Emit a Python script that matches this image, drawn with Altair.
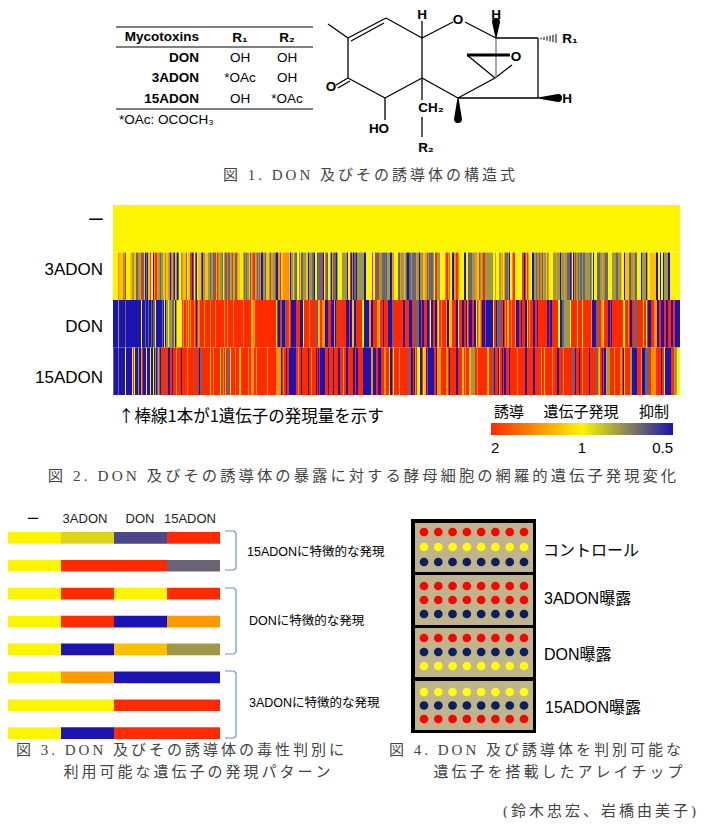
import altair as alt
import pandas as pd

RED, YEL, NAVY = "#ff2a00", "#fbf500", "#1c14b0"
SANS = "Liberation Sans"
CJK = "Noto Sans CJK JP"
MIXED = "Liberation Sans, Noto Sans CJK JP"
SERIF = "Liberation Serif, Noto Sans CJK JP"

# ---------- Fig 1 table ----------
mycotoxins = ["DON", "3ADON", "15ADON"]
r1_values = ["OH", "*OAc", "OH"]
r2_values = ["OH", "OH", "*OAc"]

# ---------- Fig 2 heat map: fold change codes, run lengths per screen section ----------
FOLD = {"R": 2.0, "O": 1.4, "A": 1.2, "Y": 1.0, "L": 0.75, "G": 0.64, "N": 0.5}
conditions = ["ー", "3ADON", "DON", "15ADON"]
section_genes = [95, 95, 95, 95, 95, 92]
expr_control = ["Y95", "Y95", "Y95", "Y95", "Y95", "Y92"]
expr_3adon = [
    "Y5 O1 A4 L2 R1 Y4 A2 L2 A2 G2 L2 O1 R1 G2 A1 N1 G1 N1 A2 R1 Y2 N1 O1 R2 O1 L2 G1 L2 A2 L1 A2 O1 L1 N1 L1 O1 G1 N1 A1 L1 N1 G1 Y2 L1 O1 A3 G1 Y1 A2 G1 R1 N1 R1 Y1 G1 N1 Y1 A3 G1 N1 L2 A3",
    "L2 G1 L2 G2 R1 A1 R1 L1 O1 L2 G1 Y1 L1 G1 R1 L1 G2 O1 L1 G1 O2 G2 O1 A2 Y3 O1 G1 L1 G1 L2 A1 G1 O1 L1 R2 O1 L1 G1 L1 G1 O1 N2 L2 G1 A3 L1 G1 O2 L2 G1 N2 O2 G1 A2 O6 A1 N1 L2 A1 L1 G2 Y2 L1 A1 G3 Y1 A1",
    "L3 A2 N1 L3 G2 N1 Y2 G5 R1 N1 Y1 L1 G2 Y2 L1 N1 O1 G3 N1 L1 Y4 L5 N1 Y2 R1 N1 L1 N1 G2 N1 L7 N2 Y6 R1 Y2 G3 R1 L3 G5 L3 N2 O2 Y4",
    "G2 O1 L3 A1 L1 G1 N2 G2 L1 G4 O1 L2 N1 L3 A2 O2 G1 L1 G4 L1 Y1 R2 L3 Y5 O1 R2 O1 L1 Y2 N2 O2 R2 O1 Y5 N2 Y2 G4 L3 O2 A2 G1 L1 O1 L1 R2 L3",
    "Y2 O1 Y3 L2 A1 O1 Y1 O1 G3 L1 N1 Y2 O1 R2 Y7 R1 G1 N1 R1 A1 R1 O1 Y3 N2 L2 G1 L2 R1 L2 G1 O1 L2 A1 L1 O1 Y4 L3 O1 L3 N1 L3 O1 L2 G3 N1 G1 Y1 N1 L1 R1 L2 G1 L1 G2 L1 G2 L2",
    "L2 G1 L1 Y1 N1 Y3 G3 L2 O1 L2 G3 Y4 L4 G2 L3 A1 Y2 N1 A4 G2 L2 O1 L1 G2 Y4 N1 L4 N1 O1 Y2 A6 N2 Y2 N1 Y2 N1 L4 N2 Y6",
]
expr_don = [
    "N5 L1 N6 G1 N15 Y1 N3 G1 N2 G1 N2 G1 N1 G2 Y1 N6 G1 N1 Y1 N1 L2 Y1 L3 G2 A1 N1 L1 Y5 R1 O1 R2 O1 R1 A1 R1 O1 R3 O1 R1 N1 R1 O1 L1 R4 O1 R3 N1",
    "R2 O1 R4 O1 R8 O1 R2 O1 R5 O1 R9 O1 R7 A2 O2 R21 Y1 R1 N2 R1 G1 N3 G1 R3 O1 R1 N5 R4 N3",
    "Y1 R5 O1 R5 G2 R1 A2 R2 O3 N3 R3 N3 O1 N1 R3 G1 R6 N3 R1 N2 A2 N2 R6 Y2 N5 O2 N2 R4 O2 Y1 R3 N1 R4 N4 G1 R5",
    "R5 N2 R4 N3 R1 G2 R1 G3 N2 R1 N2 R3 N2 G1 Y1 N2 R2 N2 O1 Y1 R2 O1 R4 O1 N2 A3 R4 N2 Y1 R3 N2 R2 N1 O1 R1 N3 R2 N2 Y1 R1 O1 Y1 O1 R1 N3 R1 N7",
    "Y1 R2 N1 G4 R2 N1 R1 O1 R1 A2 R2 O1 R3 O1 N3 R2 N1 R3 N2 A1 R1 O1 R3 N2 R2 N1 R9 N2 R1 N2 R6 Y2 N2 G2 L6 Y1 R6 Y1 R4 Y1 R5",
    "R3 O1 N4 R1 G2 R2 O2 Y1 R4 N2 R1 N1 R11 Y2 R3 O1 R1 N2 R2 G3 R6 Y1 R2 Y1 R1 N3 R3 O3 N2 R2 N3 R2 N2 R3 N2 R2 N5",
]
expr_15adon = [
    "G1 N4 G1 N6 Y1 N6 Y1 R1 Y1 N3 L1 N2 O1 R1 N3 Y1 N3 Y1 N2 Y1 N1 L1 N1 G1 O1 G1 N1 R4 G1 R2 N2 R2 N1 R3 O1 R4 N1 R5 O1 R6 G1 R4 N1 G2 R5",
    "R2 A1 R2 O1 R6 Y1 R2 O1 R1 A1 R1 G3 A1 R4 O1 R3 A2 R7 O1 R2 O3 R2 O1 R10 A1 R8 O5 N1 R1 L1 R2 N1 R2 N7 R2 O1 R2 N1 R1",
    "R5 N1 R2 O1 R4 N1 R1 N1 R1 N5 R3 N1 R4 N1 R4 N2 R3 A1 R2 N2 R5 N2 R1 N2 R5 N8 O2 N3 R2 N3 R3 O2 R3 Y1 N2 R1 Y1 R4",
    "R1 A1 R8 G2 R1 N2 R1 N1 O1 R1 Y3 N2 R1 Y1 A2 N1 R1 N6 R2 N1 O4 R5 O2 R1 N1 R6 N2 R4 A2 R1 O1 R3 A2 L4 R2 O1 R9 A2 R3 G1",
    "G1 N1 R3 N1 O1 R2 N1 R1 N2 R3 N1 R7 O1 R7 N2 R6 N2 R6 A1 R2 A1 R7 O1 R4 N2 R4 L1 R8 G2 R1 N1 R3 N1 R2 O1 R5",
    "R1 N1 R5 G2 R1 O1 Y1 R2 N1 R1 N2 O1 L3 R4 O1 R5 O2 R1 N1 A1 R5 L2 N5 R4 O1 N3 G4 R2 O5 R5 N1 R2 Y1 N6 R3 L3 Y3",
]
expr_rows = [expr_control, expr_3adon, expr_don, expr_15adon]

# ---------- Fig 3 patterns ----------
patterns = ["p1", "p2", "p3", "p4", "p5", "p6", "p7", "p8"]
pat_control = [1, 1, 1, 1, 1, 1, 1, 1]
pat_3adon = [0.907, 2, 2, 2, 0.5, 1.37, 1, 0.5]
pat_don = [0.583, 2, 1, 0.5, 1.2, 0.5, 2, 2]
pat_15adon = [2, 0.637, 2, 1.37, 0.752, 0.5, 2, 2]
group_labels = ["15ADONに特徴的な発現", "DONに特徴的な発現", "3ADONに特徴的な発現"]

# ---------- Fig 4 chip ----------
chip_names = ["コントロール", "3ADON曝露", "DON曝露", "15ADON曝露"]
chip_rows = [[2, 1, 0.5], [2, 2, 0.5], [2, 0.5, 1], [1, 0.5, 2]]
chip_columns = [1, 2, 3, 4, 5, 6, 7, 8]

# ---------- Captions ----------
cap1 = "図 1. DON 及びその誘導体の構造式"
cap2 = "図 2. DON 及びその誘導体の暴露に対する酵母細胞の網羅的遺伝子発現変化"
cap3a = "図 3. DON 及びその誘導体の毒性判別に"
cap3b = "利用可能な遺伝子の発現パターン"
cap4a = "図 4. DON 及び誘導体を判別可能な"
cap4b = "遺伝子を搭載したアレイチップ"
credit = "(鈴木忠宏、岩橋由美子)"
note = "↑棒線1本が1遺伝子の発現量を示す"


def PX():
    return alt.Scale(domain=[0, 705], range=[-8, 697], nice=False, zero=False)


def PY():
    return alt.Scale(domain=[0, 830], range=[-8, 822], nice=False, zero=False)


def fold_scale():
    return alt.Scale(type="log", base=2, domain=[2, 1, 0.5], range=[RED, YEL, NAVY], interpolate="rgb")


def spaced(s):
    return "\u2009".join(s)


layers = []


def text(items, size, font=SANS, color="#000", align="center", weight="normal"):
    df = pd.DataFrame(items, columns=["t", "x", "y"])
    layers.append(
        alt.Chart(df).mark_text(fontSize=size, font=font, color=color, align=align, baseline="middle",
                                fontWeight=weight).encode(
            x=alt.X("x:Q", scale=PX(), axis=None),
            y=alt.Y("y:Q", scale=PY(), axis=None),
            text="t:N",
        )
    )


def rules(segs, width=1.3, color="#000"):
    df = pd.DataFrame(segs, columns=["x", "y", "x2", "y2"])
    layers.append(
        alt.Chart(df).mark_rule(strokeWidth=width, color=color).encode(
            x=alt.X("x:Q", scale=PX(), axis=None), x2="x2:Q",
            y=alt.Y("y:Q", scale=PY(), axis=None), y2="y2:Q",
        )
    )


# ----- Fig 1 table -----
rules([(116, 27, 313, 27), (116, 47, 313, 47), (116, 109, 313, 109)], 1.2)
text([("Mycotoxins", 199, 37)], 13.5, weight="bold", align="right")
text([("R₁", 240, 38), ("R₂", 287, 38)], 13.5, weight="bold")
table_y = [58, 78, 99]
text(list(zip(mycotoxins, [199] * 3, table_y)), 13.5, weight="bold", align="right")
text(list(zip(r1_values, [240] * 3, table_y)) + list(zip(r2_values, [287] * 3, table_y)), 13.5)
text([("*OAc: OCOCH₃", 119, 120)], 13.5, align="left")

# ----- Fig 1 structure -----
rules([
    (328, 24, 348, 38), (348, 38, 386, 18), (351, 41, 384, 23), (386, 18, 422, 38), (422, 38, 453, 22),
    (465, 22, 496, 38), (422, 21, 422, 38), (496, 38, 538, 38), (538, 38, 538, 98), (538, 98, 458, 98),
    (458, 98, 422, 78), (422, 78, 422, 38), (422, 78, 385, 98), (385, 98, 348, 78), (348, 78, 348, 38),
    (348, 78, 336, 85), (350, 81, 338, 88), (385, 98, 385, 120), (422, 78, 422, 100), (422, 117, 422, 137),
    (467, 55, 495, 78), (495, 78, 512, 65), (495, 78, 458, 98),
])
rules([(496, 38, 496, 78)], 1.3, "#777")
rules([(467, 55, 510, 55)], 3)
rules([(541 + 3 * i, 38.5 - 0.9 - 0.7 * i, 541 + 3 * i, 38.5 + 0.9 + 0.7 * i) for i in range(6)], 1)
wedges = pd.DataFrame(
    [(0, 0, 496, 38, 0), (0, 1, 496, 22, 8), (1, 0, 538, 98, 0), (1, 1, 558, 98, 8), (2, 0, 458, 98, 0), (2, 1, 458, 119, 8)],
    columns=["w", "i", "x", "y", "s"],
)
layers.append(
    alt.Chart(wedges).mark_trail(color="#000").encode(
        x=alt.X("x:Q", scale=PX(), axis=None), y=alt.Y("y:Q", scale=PY(), axis=None),
        size=alt.Size("s:Q", scale=None), detail="w:N", order=alt.Order("i:Q"),
    )
)
text([("H", 422, 15), ("H", 496, 15), ("O", 458, 20), ("O", 516, 57), ("O", 331, 87), ("H", 567, 99)], 13.5, weight="bold")
text([("R₁", 570, 39), ("HO", 379, 129), ("R₂", 426, 148), ("CH₂", 431, 108)], 13.5, weight="bold")
text([(spaced(cap1), 369, 175)], 15, font=SERIF, color="#444")

# ----- Fig 2 heat map -----
records = []
for cond, sections in zip(conditions, expr_rows):
    runs = []
    start = 0
    for n, sec in zip(section_genes, sections):
        pos = start
        end = start + n
        tokens = sec.split()
        for tok in tokens:
            w = int(tok[1:])
            stop = min(pos + w, end)
            if stop > pos:
                runs.append([pos, stop, FOLD[tok[0]]])
            pos = stop
        if pos < end:
            runs.append([pos, end, FOLD[tokens[-1][0]]])
        start = end
    merged = []
    for r in runs:
        if merged and merged[-1][2] == r[2]:
            merged[-1][1] = r[1]
        else:
            merged.append(r)
    records += [(cond, a, b, v) for a, b, v in merged]
heat = pd.DataFrame(records, columns=["condition", "g0", "g1", "fold"])
layers.append(
    alt.Chart(heat).mark_rect().encode(
        x=alt.X("g0:Q", scale=alt.Scale(domain=[0, 567], range=[105, 672], nice=False, zero=False), axis=None),
        x2="g1:Q",
        y=alt.Y("condition:N", scale=alt.Scale(domain=conditions, range=[197, 387], paddingInner=0, paddingOuter=0), axis=None),
        color=alt.Color(
            "fold:Q",
            scale=fold_scale(),
            legend=alt.Legend(
                orient="none", legendX=483, legendY=415, direction="horizontal", title=None,
                gradientLength=182, gradientThickness=12, values=[2, 1, 0.5], labelFont=SANS, labelFontSize=15,
                labelColor="#000", tickCount=3, padding=0, format="g", labelOffset=6,
            ),
        ),
    )
)
text([("ー", 96, 221)], 17, font=CJK)
text([("3ADON", 103, 270), ("DON", 103, 327), ("15ADON", 103, 378)], 17, align="right")
text([(note, 118, 417)], 16.5, font=CJK, align="left")
text([("誘導", 509, 412), ("遺伝子発現", 581, 412), ("抑制", 654, 412)], 15, font=CJK)
text([(spaced(cap2), 362, 476)], 15.3, font=SERIF, color="#444")

# ----- Fig 3 patterns -----
pat = pd.DataFrame(
    [(p, c, v) for c, col in zip(conditions, [pat_control, pat_3adon, pat_don, pat_15adon]) for p, v in zip(patterns, col)],
    columns=["pattern", "condition", "fold"],
)
layers.append(
    alt.Chart(pat).mark_rect().encode(
        x=alt.X("condition:N", scale=alt.Scale(domain=conditions, range=[0, 212], paddingInner=0, paddingOuter=0), axis=None),
        y=alt.Y("pattern:N", scale=alt.Scale(domain=patterns, range=[524, 731], paddingInner=0.58, paddingOuter=0), axis=None),
        color=alt.Color("fold:Q", scale=fold_scale(), legend=None),
    )
)
text([("ー", 33, 519)], 13, font=CJK)
text([("3ADON", 85, 519), ("DON", 140, 519), ("15ADON", 190, 519)], 13, color="#222")
brackets = []
for b, (y0, y1) in enumerate([(531, 570), (588, 654), (671, 738)]):
    for i, (x, y) in enumerate([(225, y0), (234, y0), (236, y0 + 2), (236, y1 - 2), (234, y1), (225, y1)]):
        brackets.append((b, i, x, y))
layers.append(
    alt.Chart(pd.DataFrame(brackets, columns=["b", "i", "x", "y"])).mark_line(color="#6a93c4", strokeWidth=1.2).encode(
        x=alt.X("x:Q", scale=PX(), axis=None), y=alt.Y("y:Q", scale=PY(), axis=None),
        detail="b:N", order=alt.Order("i:Q"),
    )
)
text(list(zip(group_labels, [247, 249, 249], [552, 621, 703])), 12.5, font=MIXED, align="left")
text([(spaced(cap3a), 180, 750)], 15, font=SERIF, color="#444")
text([(spaced(cap3b), 197, 772)], 15, font=SERIF, color="#444")

# ----- Fig 4 chip -----
layers.append(
    alt.Chart(pd.DataFrame([{"x": 411, "y": 519, "x2": 536, "y2": 733, "c": "#000"}] +
                           [{"x": 415, "y": a, "x2": 533, "y2": b, "c": "#c0b48c"}
                            for a, b in [(523, 572), (575, 625), (628, 677), (681, 730)]]))
    .mark_rect().encode(
        x=alt.X("x:Q", scale=PX(), axis=None), x2="x2:Q",
        y=alt.Y("y:Q", scale=PY(), axis=None), y2="y2:Q",
        color=alt.Color("c:N", scale=None),
    )
)
for rows, (y0, y1) in zip(chip_rows, [(532, 562), (586, 614), (638, 666), (692, 719)]):
    spots = pd.DataFrame([(c, i, v) for i, v in enumerate(rows) for c in chip_columns], columns=["col", "row", "fold"])
    layers.append(
        alt.Chart(spots).mark_circle(size=76, opacity=1).encode(
            x=alt.X("col:Q", scale=alt.Scale(domain=[1, 8], range=[416, 516], nice=False, zero=False), axis=None),
            y=alt.Y("row:O", scale=alt.Scale(domain=[0, 1, 2], range=[y0 - 8, y1 - 8], padding=0), axis=None),
            color=alt.Color("fold:Q", scale=alt.Scale(type="log", base=2, domain=[2, 1, 0.5],
                                                      range=["#ff0000", "#ffff00", "#0a1f5c"], interpolate="rgb"), legend=None),
        )
    )
text(list(zip(chip_names, [543, 544, 544, 545], [551, 599, 655, 708])), 16, font=MIXED, align="left")
text([(spaced(cap4a), 535, 750)], 15, font=SERIF, color="#444")
text([(spaced(cap4b), 558, 772)], 15, font=SERIF, color="#444")
text([(spaced(credit), 696, 811)], 15, font=SERIF, color="#444", align="right")

chart = (
    alt.layer(*layers)
    .resolve_scale(x="independent", y="independent", color="independent")
    .properties(width=689, height=810, padding=0, autosize=alt.AutoSizeParams(type="none"), background="white")
    .configure_view(stroke=None)
)
chart.save("out.html", embed_options={"renderer": "svg", "actions": False})
